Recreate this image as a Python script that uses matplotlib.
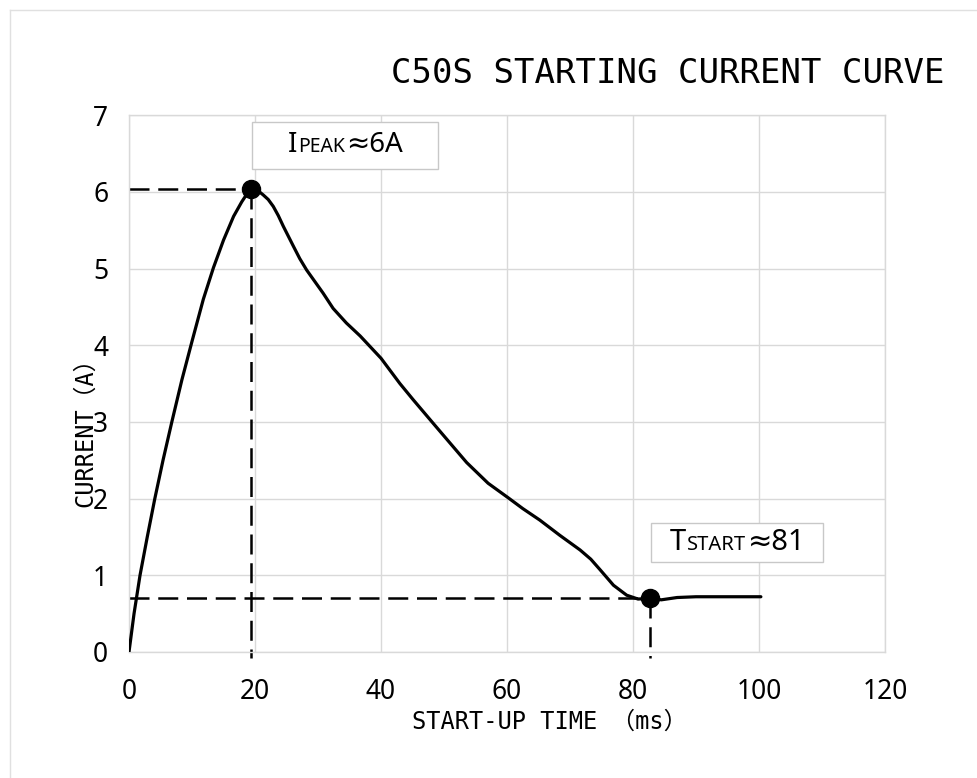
import matplotlib
matplotlib.use("Agg")
import matplotlib.pyplot as plt
import matplotlib.patches as mpatches
from matplotlib.lines import Line2D
from matplotlib.offsetbox import TextArea, HPacker, AnnotationBbox

# --- values ---
time_ms = [0, 0.8, 1.75, 2.9, 4.1, 5.4, 6.8, 8.4, 10, 11.8, 13.4, 15.0, 16.6, 17.9,
           18.7, 19.3, 20.0, 20.7, 21.3, 22.1, 22.9, 23.7, 24.5, 25.3, 26.1, 27.1,
           28.2, 29.5, 30.8, 32.4, 34.5, 36.7, 40, 43, 45.1, 48.3, 51, 53.6, 57,
           60.2, 62.5, 65.2, 68.4, 71.6, 73.3, 74.8, 76.9, 79.0, 80.8, 82.7, 84.5,
           87, 90, 95, 100.3]
current_a = [0, 0.5, 1.0, 1.5, 2.0, 2.5, 3.0, 3.55, 4.05, 4.6, 5.01, 5.37, 5.68, 5.87,
             5.97, 6.03, 6.03, 6.0, 5.96, 5.9, 5.81, 5.69, 5.55, 5.42, 5.29, 5.13,
             4.98, 4.83, 4.68, 4.48, 4.29, 4.12, 3.83, 3.5, 3.29, 2.98, 2.72, 2.47, 2.2,
             2.01, 1.87, 1.72, 1.52, 1.33, 1.21, 1.07, 0.87, 0.74, 0.69, 0.70, 0.68,
             0.71, 0.72, 0.72, 0.72]

peak_point = (19.4, 6.04)
start_point = (82.7, 0.70)

x_ticks = [0, 20, 40, 60, 80, 100, 120]
y_ticks = [0, 1, 2, 3, 4, 5, 6, 7]

title = "C50S STARTING CURRENT CURVE"
x_label = "START-UP TIME （ms）"
y_label = "CURRENT（A）"

MONO = ['DejaVu Sans Mono', 'Noto Sans CJK SC']
SANS = ['Noto Sans', 'DejaVu Sans']
GRID = '#d9d9d9'

fig = plt.figure(figsize=(9.78, 7.78), dpi=100, facecolor='white')
ax = fig.add_axes([0.1319, 0.162, 0.773, 0.690])

# --- grid and frame ---
ax.set_xlim(0, 120)
ax.set_ylim(0, 7)
ax.set_xticks(x_ticks)
ax.set_yticks(y_ticks)
ax.grid(True, color=GRID, linewidth=1.0)
ax.set_axisbelow(True)
for sp in ax.spines.values():
    sp.set_color(GRID)
    sp.set_linewidth(1.0)
ax.tick_params(length=0, labelsize=19, colors='black')
ax.tick_params(axis='x', pad=19)
ax.tick_params(axis='y', pad=15)
for lab in ax.get_xticklabels() + ax.get_yticklabels():
    lab.set_family(SANS)

# --- curve ---
ax.plot(time_ms, current_a, color='black', linewidth=2.3, zorder=3,
        solid_joinstyle='round', solid_capstyle='round')

# --- dashed guide lines and markers ---
dash_kw = dict(color='black', linewidth=1.8, dashes=(8, 3.5), clip_on=False, zorder=2)
for px, py in (peak_point, start_point):
    ax.plot([0, px], [py, py], **dash_kw)
    ax.plot([px, px], [py, -0.08], **dash_kw)
    ax.plot([px], [py], 'o', color='black', markersize=13, zorder=4, clip_on=False)

# --- annotation boxes ---
def label_box(x0, y0, x1, y1, big, small, tail, big_size, small_size):
    ax.add_patch(mpatches.Rectangle((x0, y0), x1 - x0, y1 - y0, facecolor='white',
                                    edgecolor='#c8c8c8', linewidth=1.0, zorder=5))
    parts = [TextArea(big, textprops=dict(size=big_size, family=SANS)),
             TextArea(small, textprops=dict(size=small_size, family=SANS)),
             TextArea(tail, textprops=dict(size=big_size, family=SANS))]
    pack = HPacker(children=parts, align='baseline', pad=0, sep=1)
    ab = AnnotationBbox(pack, ((x0 + x1) / 2, (y0 + y1) / 2), frameon=False,
                        box_alignment=(0.5, 0.5), zorder=6)
    ax.add_artist(ab)

label_box(19.6, 6.30, 49.1, 6.91, 'I', 'PEAK', '≈6A', 20, 14)
label_box(82.9, 1.17, 110.2, 1.68, 'T', 'START', '≈81', 21, 14.5)

# --- titles ---
fig.text(0.683, 0.906, title, ha='center', va='center', fontsize=24.5, family=MONO)
fig.text(0.562, 0.072, x_label, ha='center', va='center', fontsize=17, family=MONO)
fig.text(0.087, 0.452, y_label, ha='center', va='center', fontsize=17, family=MONO,
         rotation=90)

# --- screenshot border ---
fig.add_artist(Line2D([0.01, 1.0], [0.987, 0.987], color='#e0e0e0', linewidth=1.0))
fig.add_artist(Line2D([0.0105, 0.0105], [0.0, 0.987], color='#e0e0e0', linewidth=1.0))

fig.savefig('out.png', dpi=100, facecolor='white')
